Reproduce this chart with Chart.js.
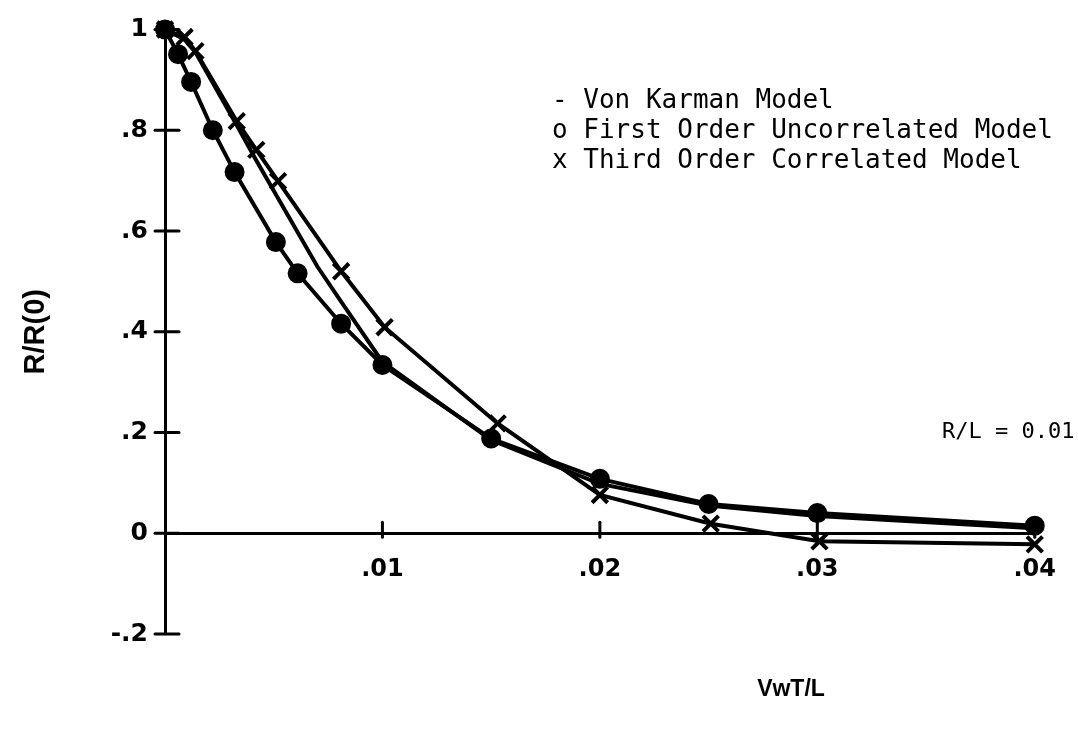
<!DOCTYPE html>
<html>
<head>
<meta charset="utf-8">
<title>R/R(0) vs VwT/L</title>
<script src="https://cdn.jsdelivr.net/npm/chart.js@4.4.1/dist/chart.umd.min.js"></script>
<style>
  html, body { margin: 0; padding: 0; background: #fff; }
  #wrap { width: 1078px; height: 731px; }
</style>
</head>
<body>
<div id="wrap"><canvas id="corrChart" width="1078" height="731"></canvas></div>
<script>
// normalised correlation R/R(0) against VwT/L for the three models
const karmanX = [0, 0.0009, 0.0014, 0.0033, 0.0042, 0.0052, 0.0070, 0.0081, 0.0100, 0.0150, 0.0200, 0.0250, 0.0300, 0.0400];
const karmanY = [1.0, 0.980, 0.955, 0.810, 0.740, 0.665, 0.530, 0.460, 0.340, 0.185, 0.098, 0.055, 0.034, 0.010];

const firstX = [0, 0.0006, 0.0012, 0.0022, 0.0032, 0.0051, 0.0061, 0.0081, 0.0100, 0.0150, 0.0200, 0.0250, 0.0300, 0.0400];
const firstY = [1.0, 0.951, 0.896, 0.800, 0.717, 0.578, 0.516, 0.416, 0.334, 0.188, 0.108, 0.058, 0.040, 0.015];

const thirdX = [0, 0.0009, 0.0014, 0.0033, 0.0042, 0.0052, 0.0081, 0.0101, 0.0153, 0.0200, 0.0251, 0.0301, 0.0400];
const thirdY = [1.0, 0.985, 0.957, 0.818, 0.761, 0.699, 0.520, 0.409, 0.218, 0.076, 0.019, -0.016, -0.022];

const seriesNames = ['Von Karman Model', 'First Order Uncorrelated Model', 'Third Order Correlated Model'];
const legendMarks = ['-', 'o', 'x'];

const xTicks = [0.01, 0.02, 0.03, 0.04];
const xTickLabels = ['.01', '.02', '.03', '.04'];
const yTicks = [-0.2, 0, 0.2, 0.4, 0.6, 0.8, 1];
const yTickLabels = ['-.2', '0', '.2', '.4', '.6', '.8', '1'];

const note = 'R/L = 0.01';
const xTitle = 'VwT/L';
const yTitle = 'R/R(0)';

function pairs(xs, ys) {
  return xs.map((x, i) => ({ x: x, y: ys[i] }));
}

// cross-shaped tick marks, the text legend and the notes
const annotate = {
  id: 'annotate',
  afterDraw(chart) {
    const ctx = chart.ctx;
    const xs = chart.scales.x;
    const ys = chart.scales.y;
    const ax = xs.getPixelForValue(0);
    const ay = ys.getPixelForValue(0);

    ctx.save();
    ctx.strokeStyle = '#000';
    ctx.lineWidth = 3;
    ctx.lineCap = 'round';
    yTicks.forEach(v => {
      const py = ys.getPixelForValue(v);
      ctx.beginPath();
      ctx.moveTo(ax - 10, py);
      ctx.lineTo(ax + 14, py);
      ctx.stroke();
    });
    xTicks.forEach(v => {
      const px = xs.getPixelForValue(v);
      ctx.beginPath();
      ctx.moveTo(px, ay - 11);
      ctx.lineTo(px, ay + 4);
      ctx.stroke();
    });

    ctx.fillStyle = '#000';
    ctx.textBaseline = 'middle';
    ctx.textAlign = 'left';
    ctx.font = '26px "DejaVu Sans Mono"';
    chart.data.datasets.forEach((ds, i) => {
      ctx.fillText(legendMarks[i] + ' ' + ds.label, 552, 101 + i * 30);
    });

    ctx.font = '22px "DejaVu Sans Mono"';
    ctx.fillText(note, 942, 432);

    ctx.textAlign = 'center';
    ctx.font = 'bold 23px "Liberation Sans"';
    ctx.fillText(xTitle, 791, 690);
    ctx.restore();
  }
};

const ctx = document.getElementById('corrChart').getContext('2d');
const corrChart = new Chart(ctx, {
  type: 'line',
  data: {
    datasets: [{
      label: seriesNames[0],
      data: pairs(karmanX, karmanY),
      borderColor: '#000',
      borderWidth: 4,
      pointRadius: 0,
      tension: 0,
      clip: false
    }, {
      label: seriesNames[1],
      data: pairs(firstX, firstY),
      borderColor: '#000',
      borderWidth: 4,
      pointStyle: 'circle',
      pointRadius: 8,
      pointBackgroundColor: '#000',
      pointBorderColor: '#000',
      tension: 0,
      clip: false
    }, {
      label: seriesNames[2],
      data: pairs(thirdX, thirdY),
      borderColor: '#000',
      borderWidth: 4,
      pointStyle: 'crossRot',
      pointRadius: 11,
      pointBorderWidth: 4,
      pointBorderColor: '#000',
      tension: 0,
      clip: false
    }]
  },
  options: {
    responsive: false,
    animation: false,
    devicePixelRatio: 1,
    layout: {
      padding: { left: 0, right: 28, top: 20, bottom: 97 }
    },
    plugins: {
      legend: { display: false },
      tooltip: { enabled: false }
    },
    scales: {
      x: {
        type: 'linear',
        position: { y: 0 },
        min: 0,
        max: 0.04,
        afterBuildTicks: scale => {
          scale.ticks = xTicks.map(v => ({ value: v }));
        },
        ticks: {
          autoSkip: false,
          maxRotation: 0,
          padding: 22,
          color: '#000',
          font: { family: 'DejaVu Sans', weight: 'bold', size: 24 },
          callback: (value, i) => xTickLabels[i]
        },
        grid: { display: false, drawTicks: false },
        border: { display: true, color: '#000', width: 3 }
      },
      y: {
        type: 'linear',
        min: -0.2,
        max: 1,
        afterBuildTicks: scale => {
          scale.ticks = yTicks.map(v => ({ value: v }));
        },
        afterFit: scale => {
          scale.width = 165;
        },
        ticks: {
          autoSkip: false,
          padding: 17,
          color: '#000',
          font: { family: 'DejaVu Sans', weight: 'bold', size: 25, lineHeight: 1.0 },
          callback: (value, i) => yTickLabels[i]
        },
        grid: { display: false, drawTicks: false },
        border: { display: true, color: '#000', width: 3 },
        title: {
          display: true,
          text: yTitle,
          color: '#000',
          padding: { top: 19, bottom: 0 },
          font: { family: 'Liberation Sans', weight: 'bold', size: 29 }
        }
      }
    }
  },
  plugins: [annotate]
});
</script>
</body>
</html>
